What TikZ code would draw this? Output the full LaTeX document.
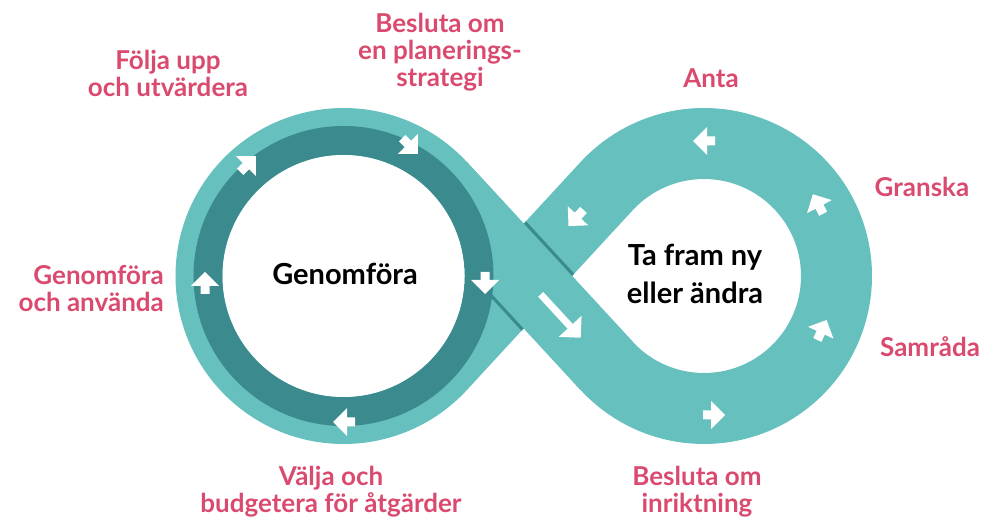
\documentclass[tikz,border=0pt]{standalone}
\usepackage{fontspec}
\setmainfont{Lato}
\usetikzlibrary{calc}
\definecolor{lteal}{HTML}{66C0BE}
\definecolor{dteal}{HTML}{3A8A8E}
\definecolor{pinklab}{HTML}{DA4A6E}
\tikzset{
  flowarr/.pic={\fill[white] (11,0) -- (-3,14) -- (-3,4.5) -- (-11,4.5) -- (-11,-4.5) -- (-3,-4.5) -- (-3,-14) -- cycle;},
}
\begin{document}
\begin{tikzpicture}[x=1pt,y=1pt,
  lab/.style={text=pinklab, font=\fontsize{26}{27}\selectfont\bfseries, inner sep=0pt, align=center},
  ctr/.style={text=black, font=\fontsize{29}{38}\selectfont\bfseries, inner sep=0pt, align=center},
  band/.style={draw=lteal, line width=71pt},
  shadow/.style={draw=dteal, line width=3.5pt},
]
\useasboundingbox (0,0) rectangle (987,518);
\def\rc{132.5}
\coordinate (CL) at (343.5,242);
\coordinate (CR) at (704,242);
\coordinate (M) at (523.75,242);
\coordinate (T1) at ($(CL)+(42.68:\rc)$);
\coordinate (T2) at ($(CR)+(222.68:\rc)$);
\coordinate (T4) at ($(CL)+(-42.68:\rc)$);
% whole infinity band
\draw[band, line join=round] (T1) -- (T2) arc[start angle=222.68, end angle=497.32, radius=\rc] -- (T4) arc[start angle=-42.68, end angle=-317.32, radius=\rc] -- cycle;
% shadows on the lower band
\begin{scope}
\clip ($(M)+(47.32:100)+(137.32:35.5)$) -- ($(M)+(47.32:100)+(-42.68:35.5)$) -- ($(M)+(227.32:100)+(-42.68:35.5)$) -- ($(M)+(227.32:100)+(137.32:35.5)$) -- cycle;
\draw[shadow] ($(M)+(42.68:37)+(-47.32:100)$) -- ($(M)+(42.68:37)+(132.68:100)$);
\draw[shadow] ($(M)+(222.68:37)+(-47.32:100)$) -- ($(M)+(222.68:37)+(132.68:100)$);
\end{scope}
% upper band on top
\draw[band] (T1) -- (T2);
% left ring
\draw[dteal, line width=29pt] (CL) circle[radius=135.5];
\fill[white] (CL) circle[radius=121];
% big arrow
\begin{scope}[shift={(M)}, rotate=-47.32]
\fill[white] (25,3.5) -- (68.5,3.5) -- (68.5,15.5) -- (84,0) -- (68.5,-15.5) -- (68.5,-3.5) -- (25,-3.5) -- cycle;
\end{scope}
% small arrows, left loop
\pic[rotate=90] at (205,235) {flowarr};
\pic[rotate=45] at (248,354) {flowarr};
\pic[rotate=-45] at (410,372) {flowarr};
\pic[rotate=-90] at (485,235) {flowarr};
\pic[rotate=180] at (344,96) {flowarr};
% small arrows, right loop
\pic[rotate=180] at (704,377) {flowarr};
\pic[rotate=118] at (818,314) {flowarr};
\pic[rotate=65] at (822,188) {flowarr};
\pic[rotate=0] at (714,103) {flowarr};
\pic[rotate=227] at (576,300) {flowarr};
% centre texts
\node[ctr, anchor=base] (genom) at (345,233) {Genomföra};
\node[ctr, anchor=base] (tafram) at (695,214) {Ta fram ny\\eller ändra};
% labels
\node[lab, anchor=base] (strat) at (440,431) {Besluta om\\en planerings-\\strategi};
\node[lab, anchor=base] (folja) at (168,421) {Följa upp\\och utvärdera};
\node[lab, anchor=base east, align=right] (genanv) at (164,206) {Genomföra\\och använda};
\node[lab, anchor=base] (valja) at (331,5) {Välja och\\budgetera för åtgärder};
\node[lab, anchor=base] (inrikt) at (697,5) {Besluta om\\inriktning};
\node[lab, anchor=base] (anta) at (711,430) {Anta};
\node[lab, anchor=base] (gransk) at (922,321) {Granska};
\node[lab, anchor=base] (samr) at (930,161) {Samråda};
\end{tikzpicture}
\end{document}
